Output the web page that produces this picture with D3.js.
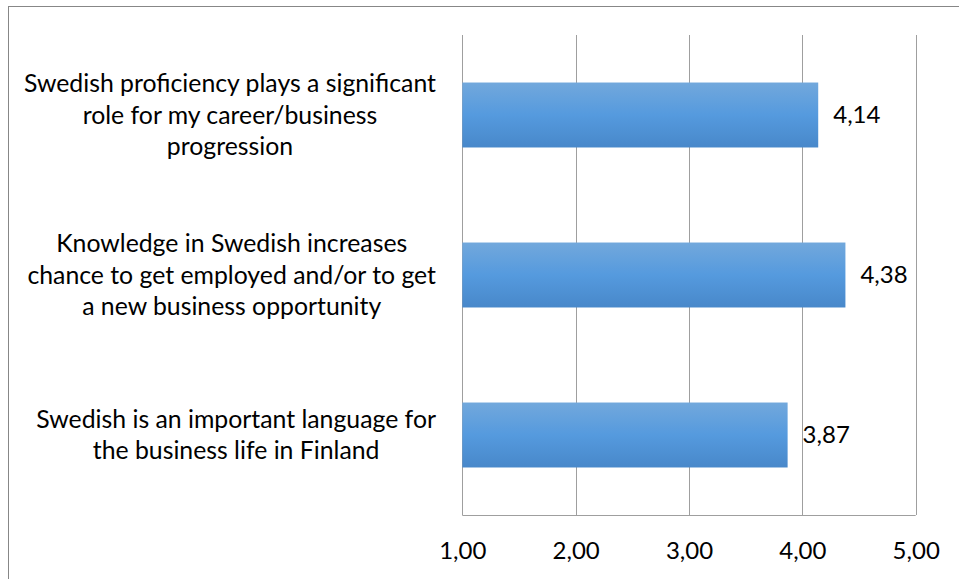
<!DOCTYPE html>
<html>
<head>
<meta charset="utf-8">
<script src="https://cdn.jsdelivr.net/npm/d3@7"></script>
<style>
  html, body { margin: 0; padding: 0; background: #fff; }
  svg { display: block; }
  text { font-family: Lato, "Open Sans", sans-serif; fill: #000; }
</style>
</head>
<body>
<svg id="chart" width="959" height="579"></svg>
<script>
// Survey statements (top to bottom) and their mean agreement scores
const categories = [
  ["Swedish proficiency plays a significant", "role for my career/business", "progression"],
  ["Knowledge in Swedish increases", "chance to get employed and/or to get", "a new business opportunity"],
  ["Swedish is an important language for", "the business life in Finland"]
];
const values = [4.14, 4.38, 3.87];
const tickValues = [1, 2, 3, 4, 5];
const tickLabels = ["1,00", "2,00", "3,00", "4,00", "5,00"];

const svg = d3.select("#chart");
const plot = { left: 462.3, right: 915.7, top: 35, bottom: 515 };

// Gradient used to fill the bars
const defs = svg.append("defs");
const grad = defs.append("linearGradient")
  .attr("id", "barFill").attr("x1", 0).attr("y1", 0).attr("x2", 0).attr("y2", 1);
grad.append("stop").attr("offset", "0%").attr("stop-color", "#72a8dc");
grad.append("stop").attr("offset", "50%").attr("stop-color", "#559ade");
grad.append("stop").attr("offset", "100%").attr("stop-color", "#4888ca");

// Outer chart frame
svg.append("rect")
  .attr("x", 8.5).attr("y", 6.5).attr("width", 960).attr("height", 590)
  .attr("fill", "none").attr("stroke", "#878787").attr("stroke-width", 1);

const x = d3.scaleLinear().domain([1, 5]).range([plot.left, plot.right]);
const y = d3.scaleBand()
  .domain(d3.range(categories.length))
  .range([plot.top, plot.bottom])
  .paddingInner(0.594).paddingOuter(0.297);

// Vertical gridlines
svg.append("g")
  .selectAll("line").data(tickValues).join("line")
  .attr("x1", d => Math.round(x(d)) + 0.5).attr("x2", d => Math.round(x(d)) + 0.5)
  .attr("y1", plot.top).attr("y2", plot.bottom)
  .attr("stroke", "#9f9f9f").attr("stroke-width", 1);

// Bottom axis line and tick labels
const xAxis = d3.axisBottom(x)
  .tickValues(tickValues)
  .tickFormat((d, i) => tickLabels[i])
  .tickSize(0).tickPadding(0);
const gx = svg.append("g").attr("transform", `translate(0,${plot.bottom + 0.5})`).call(xAxis);
gx.select(".domain").attr("stroke", "#9f9f9f").attr("d", `M${plot.left},0H${plot.right}`);
gx.selectAll(".tick line").remove();
gx.selectAll(".tick text")
  .attr("y", 35).attr("dy", "0.35em")
  .style("font-family", "Lato, 'Open Sans', sans-serif")
  .style("font-size", "24px").attr("fill", "#000");

// Bars
svg.append("g")
  .selectAll("rect").data(values).join("rect")
  .attr("x", x(1))
  .attr("y", (d, i) => y(i))
  .attr("width", d => x(d) - x(1))
  .attr("height", y.bandwidth())
  .attr("fill", "url(#barFill)");

// Value labels
svg.append("g")
  .selectAll("text").data(values).join("text")
  .attr("x", d => x(d) + 15)
  .attr("y", (d, i) => y(i) + y.bandwidth() / 2)
  .attr("dy", "0.35em")
  .style("font-size", "24px")
  .text(d => d.toFixed(2).replace(".", ","));

// Category labels, wrapped lines centred in a block ending at the axis
const labelRight = 436;
const lineGap = 31.6;
const cg = svg.append("g");
categories.forEach((lines, i) => {
  const g = cg.append("g");
  const cy = y(i) + y.bandwidth() / 2;
  const texts = g.selectAll("text").data(lines).join("text")
    .attr("text-anchor", "middle")
    .attr("y", (d, j) => cy + (j - (lines.length - 1) / 2) * lineGap)
    .attr("dy", "0.35em")
    .style("font-size", "24.8px")
    .text(d => d);
  let maxW = 0;
  texts.each(function () { maxW = Math.max(maxW, this.getComputedTextLength()); });
  texts.attr("x", labelRight - maxW / 2);
});
</script>
</body>
</html>
